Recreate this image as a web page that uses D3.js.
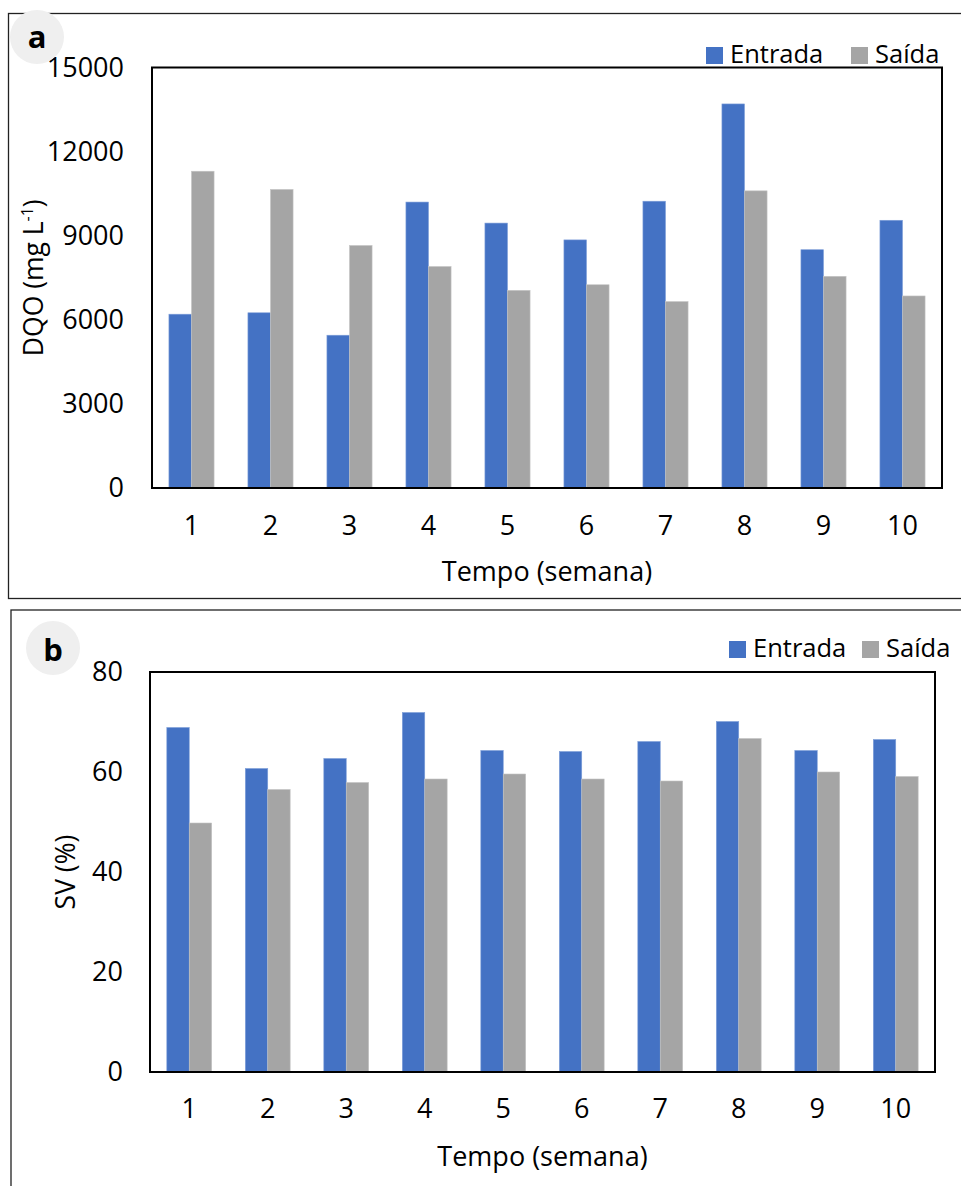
<!DOCTYPE html>
<html>
<head>
<meta charset="utf-8">
<script src="https://cdn.jsdelivr.net/npm/d3@7"></script>
<style>
  html, body { margin: 0; padding: 0; background: #fff; }
  svg { display: block; font-family: "Open Sans", "Noto Sans", sans-serif; }
</style>
</head>
<body>
<svg id="fig" width="961" height="1186"></svg>
<script>
// Weekly data (weeks 1–10)
const weeks = ["1", "2", "3", "4", "5", "6", "7", "8", "9", "10"];
const seriesNames = ["Entrada", "Saída"];
const seriesColors = ["#4472C4", "#A5A5A5"];

// Panel a: DQO (mg L-1)
const dqoEntrada = [6200, 6250, 5450, 10200, 9450, 8850, 10230, 13700, 8500, 9550];
const dqoSaida   = [11300, 10650, 8650, 7900, 7050, 7250, 6650, 10600, 7550, 6850];
const dqoTicks   = [0, 3000, 6000, 9000, 12000, 15000];

// Panel b: SV (%)
const svEntrada = [68.9, 60.7, 62.7, 71.9, 64.3, 64.1, 66.1, 70.1, 64.3, 66.5];
const svSaida   = [49.8, 56.5, 57.9, 58.6, 59.6, 58.6, 58.2, 66.7, 60.0, 59.1];
const svTicks   = [0, 20, 40, 60, 80];

const svg = d3.select("#fig");
const FS = 27;        // tick labels and axis titles
const FS_LEG = 25.5;  // legend entries

function drawPanel(cfg) {
  const g = svg.append("g");

  // outer frame of the panel
  g.append("rect")
    .attr("x", cfg.frame[0]).attr("y", cfg.frame[1])
    .attr("width", cfg.frame[2]).attr("height", cfg.frame[3])
    .attr("fill", "none").attr("stroke", "#222").attr("stroke-width", 1.3);

  const x0 = d3.scaleBand().domain(weeks).range([cfg.left, cfg.right]).padding(0);
  const x1 = d3.scaleBand().domain(seriesNames).range([0, x0.bandwidth()])
    .paddingInner(0).paddingOuter(0.75);
  const y = d3.scaleLinear().domain([0, d3.max(cfg.ticks)]).range([cfg.bottom, cfg.top]);

  const rows = weeks.map((w, i) => ({ week: w, values: [cfg.a[i], cfg.b[i]] }));

  const groups = g.selectAll("g.week").data(rows).join("g")
    .attr("class", "week")
    .attr("transform", d => `translate(${x0(d.week)},0)`);

  groups.selectAll("rect").data(d => d.values.map((v, k) => ({ key: seriesNames[k], v, k })))
    .join("rect")
    .attr("x", d => x1(d.key))
    .attr("width", x1.bandwidth())
    .attr("y", d => y(d.v))
    .attr("height", d => y(0) - y(d.v))
    .attr("fill", d => seriesColors[d.k])
    .attr("stroke", d => d.k === 0 ? "#7f9fd9" : "#c4c4c4")
    .attr("stroke-width", 0.6);

  // y axis labels
  const yAxis = g.append("g")
    .attr("transform", `translate(${cfg.left},0)`)
    .call(d3.axisLeft(y).tickValues(cfg.ticks).tickSize(0).tickPadding(cfg.yPad)
      .tickFormat(d3.format("d")));
  yAxis.select(".domain").remove();
  yAxis.selectAll("text").attr("font-size", FS).attr("fill", "#000")
    .attr("font-family", "'Open Sans', sans-serif");

  // x axis labels
  const xAxis = g.append("g")
    .attr("transform", `translate(0,${cfg.bottom})`)
    .call(d3.axisBottom(x0).tickSize(0).tickPadding(cfg.xPad));
  xAxis.select(".domain").remove();
  xAxis.selectAll("text").attr("font-size", FS).attr("fill", "#000")
    .attr("font-family", "'Open Sans', sans-serif");

  // plot area border
  g.append("rect")
    .attr("x", cfg.left).attr("y", cfg.top)
    .attr("width", cfg.right - cfg.left).attr("height", cfg.bottom - cfg.top)
    .attr("fill", "none").attr("stroke", "#000").attr("stroke-width", 2);

  // x axis title
  g.append("text")
    .attr("x", (cfg.left + cfg.right) / 2).attr("y", cfg.xTitleY)
    .attr("text-anchor", "middle").attr("font-size", FS)
    .text("Tempo (semana)");

  // y axis title
  const yt = g.append("text")
    .attr("transform", `translate(${cfg.yTitleX},${(cfg.top + cfg.bottom) / 2}) rotate(-90)`)
    .attr("text-anchor", "middle").attr("font-size", 26.5);
  cfg.yTitle(yt);

  // legend
  seriesNames.forEach((name, k) => {
    const lx = cfg.legend[k];
    g.append("rect")
      .attr("x", lx).attr("y", cfg.legendY - 16)
      .attr("width", 17).attr("height", 17)
      .attr("fill", seriesColors[k]);
    g.append("text")
      .attr("x", lx + 24).attr("y", cfg.legendY)
      .attr("font-size", FS_LEG).text(name);
  });

  // panel letter badge
  g.append("circle")
    .attr("cx", cfg.badge[0]).attr("cy", cfg.badge[1]).attr("r", 27)
    .attr("fill", "#efefef");
  g.append("text")
    .attr("x", cfg.badge[0]).attr("y", cfg.badge[2])
    .attr("text-anchor", "middle").attr("font-size", 31).attr("font-weight", "bold")
    .text(cfg.letter);
}

drawPanel({
  letter: "a",
  frame: [8.5, 13.5, 980, 585],
  left: 152, right: 942, top: 67.5, bottom: 488,
  a: dqoEntrada, b: dqoSaida, ticks: dqoTicks,
  yPad: 28, xPad: 28, xTitleY: 581, yTitleX: 43,
  yTitle: t => {
    t.append("tspan").text("DQO (mg L");
    t.append("tspan").attr("font-size", 16).attr("dy", -10).text("-1");
    t.append("tspan").attr("dy", 10).text(")");
  },
  legend: [706, 851], legendY: 63,
  badge: [37, 37, 48]
});

drawPanel({
  letter: "b",
  frame: [11, 610, 980, 600],
  left: 150, right: 935, top: 672, bottom: 1072,
  a: svEntrada, b: svSaida, ticks: svTicks,
  yPad: 27, xPad: 27, xTitleY: 1166, yTitleX: 75,
  yTitle: t => t.text("SV (%)"),
  legend: [729, 862], legendY: 657,
  badge: [53, 648, 661]
});
</script>
</body>
</html>
